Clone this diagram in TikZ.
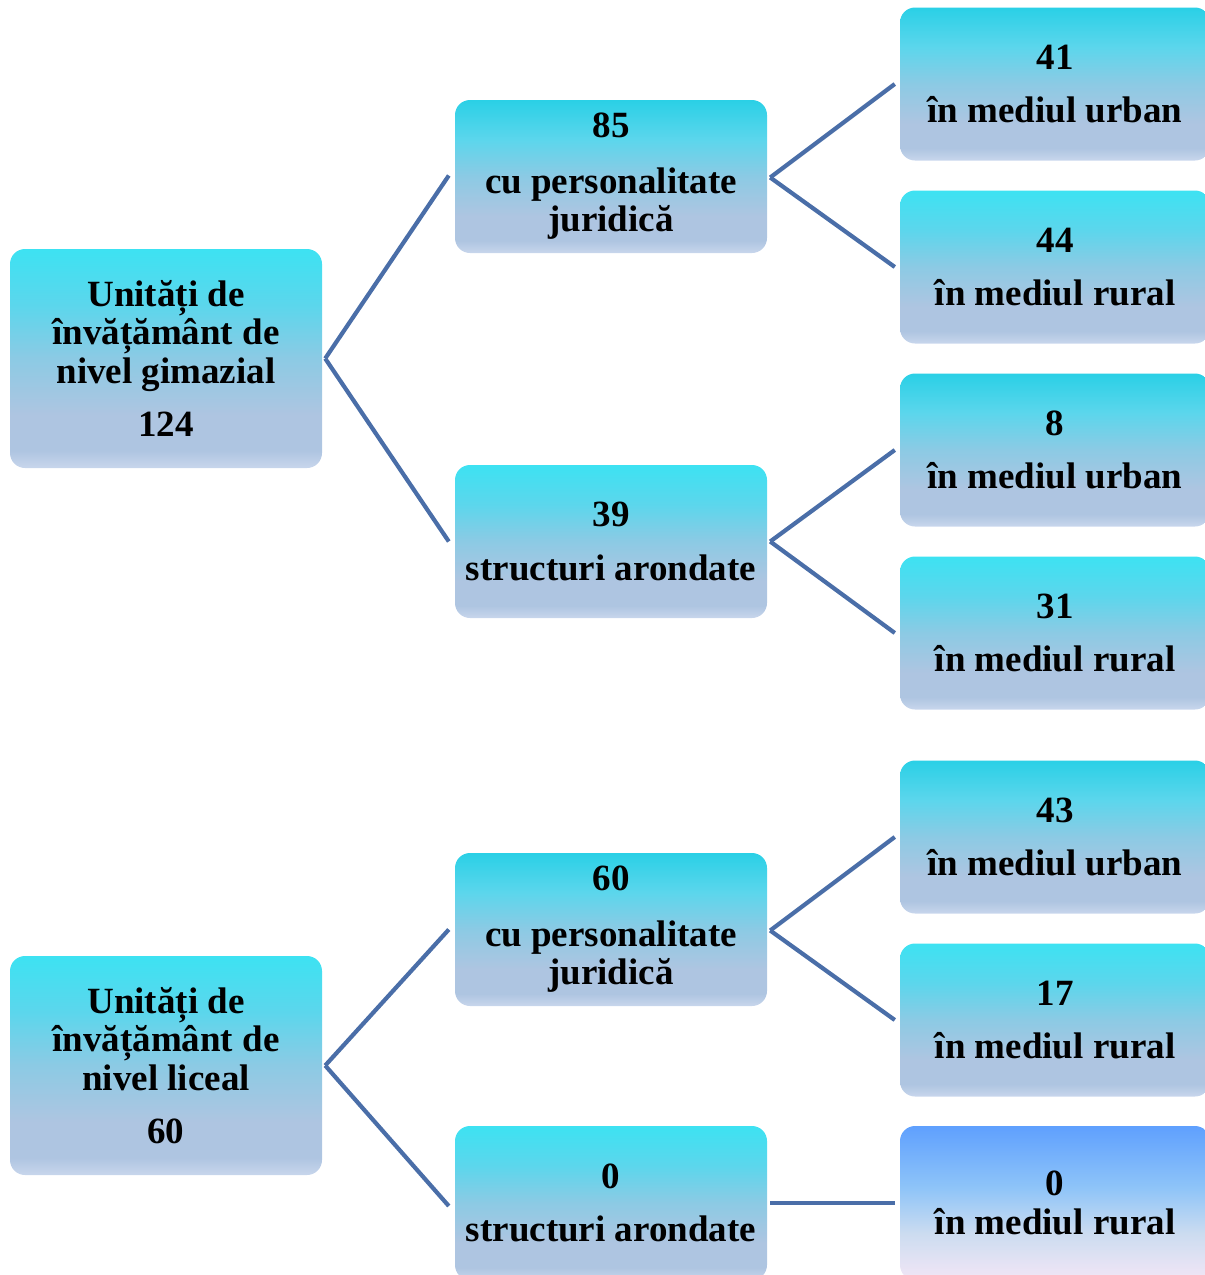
\documentclass[tikz,border=0pt]{standalone}
\usepackage{fontspec}
\setmainfont{Liberation Serif}
\definecolor{cTopL}{HTML}{3DE2F2}
\definecolor{cTopD}{HTML}{2AD0E6}
\definecolor{cUp}{HTML}{5CD6EC}
\definecolor{cMid}{HTML}{8CCAE4}
\definecolor{cLow}{HTML}{AEC5E1}
\definecolor{cBot}{HTML}{C8D6EC}
\definecolor{zTop}{HTML}{5FA0FE}
\definecolor{zMid}{HTML}{8EC4F8}
\definecolor{zLow}{HTML}{CCDCF0}
\definecolor{zBot}{HTML}{F2E6F6}
\definecolor{lineblue}{HTML}{4A6EA8}
\pgfdeclareverticalshading{shLight}{100bp}{color(0bp)=(cBot); color(25bp)=(cBot); color(29bp)=(cLow); color(37bp)=(cLow); color(50bp)=(cMid); color(62bp)=(cUp); color(75bp)=(cTopL); color(100bp)=(cTopL)}
\pgfdeclareverticalshading{shDark}{100bp}{color(0bp)=(cBot); color(25bp)=(cBot); color(29bp)=(cLow); color(37bp)=(cLow); color(50bp)=(cMid); color(62bp)=(cUp); color(75bp)=(cTopD); color(100bp)=(cTopD)}
\pgfdeclareverticalshading{shZero}{100bp}{color(0bp)=(zBot); color(25bp)=(zBot); color(40bp)=(zLow); color(55bp)=(zMid); color(75bp)=(zTop); color(100bp)=(zTop)}
\tikzset{
  box/.style={rectangle, rounded corners=15pt, inner sep=0pt, align=center,
    font=\bfseries\fontsize{37}{38.5}\selectfont, text=black},
  rootbox/.style={box, minimum width=312pt, minimum height=219pt},
  midbox/.style={box, minimum width=312pt, minimum height=153pt},
  leafbox/.style={box, minimum width=310pt, minimum height=153pt},
  light/.style={shading=shLight},
  dark/.style={shading=shDark},
  zero/.style={shading=shZero},
  conn/.style={draw=lineblue, line width=4.2pt}
}
\begin{document}
\begin{tikzpicture}[x=1pt,y=-1pt]
\useasboundingbox (0,0) rectangle (1205,1275);
\clip (0,0) rectangle (1205,1275);
% roots
\node[rootbox, light] (r1) at (166,358.5) {Unități de\\învățământ de\\nivel gimazial\\[15pt]124};
\node[rootbox, light] (r2) at (166,1065.5) {Unități de\\învățământ de\\nivel liceal\\[15pt]60};
% middle
\node[midbox, dark] (m1) at (611,176.5) {85\\[17pt]cu personalitate\\juridică};
\node[midbox, light] (m2) at (611,541.5) {39\\[16pt]structuri arondate};
\node[midbox, dark] (m3) at (611,929.5) {60\\[17pt]cu personalitate\\juridică};
\node[midbox, light, minimum height=154pt] (m4) at (611,1203) {0\\[15pt]structuri arondate};
% leaves
\node[leafbox, dark] (l1) at (1055,84) {41\\[15pt]în mediul urban};
\node[leafbox, light] (l2) at (1055,267) {44\\[15pt]în mediul rural};
\node[leafbox, dark] (l3) at (1055,450) {8\\[15pt]în mediul urban};
\node[leafbox, light] (l4) at (1055,633) {31\\[15pt]în mediul rural};
\node[leafbox, dark] (l5) at (1055,837) {43\\[15pt]în mediul urban};
\node[leafbox, light] (l6) at (1055,1020) {17\\[15pt]în mediul rural};
\node[leafbox, zero, minimum height=154pt] (l7) at (1055,1203) {0\\[1pt]în mediul rural};
% connectors
\draw[conn] ([xshift=3pt]r1.east) -- ([xshift=-6pt,yshift=1pt]m1.west);
\draw[conn] ([xshift=3pt]r1.east) -- ([xshift=-6pt]m2.west);
\draw[conn] ([xshift=3pt]r2.east) -- ([xshift=-6pt]m3.west);
\draw[conn] ([xshift=3pt]r2.east) -- ([xshift=-6pt,yshift=-3pt]m4.west);
\draw[conn] ([xshift=3pt,yshift=-1pt]m1.east) -- ([xshift=-5pt]l1.west);
\draw[conn] ([xshift=3pt,yshift=-1pt]m1.east) -- ([xshift=-5pt]l2.west);
\draw[conn] ([xshift=3pt]m2.east) -- ([xshift=-5pt]l3.west);
\draw[conn] ([xshift=3pt]m2.east) -- ([xshift=-5pt]l4.west);
\draw[conn] ([xshift=3pt,yshift=-1pt]m3.east) -- ([xshift=-5pt]l5.west);
\draw[conn] ([xshift=3pt,yshift=-1pt]m3.east) -- ([xshift=-5pt]l6.west);
\draw[conn] ([xshift=3pt]m4.east) -- ([xshift=-5pt]l7.west);
\end{tikzpicture}
\end{document}
